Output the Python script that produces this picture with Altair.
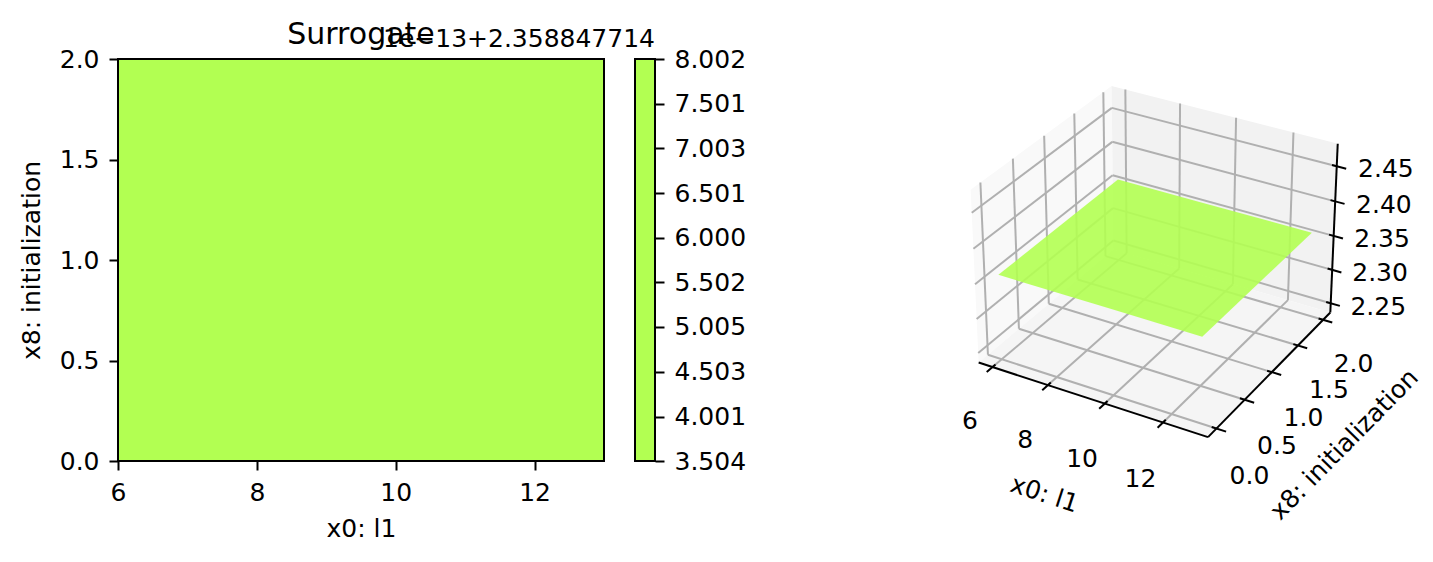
import numpy as np
import pandas as pd
import altair as alt

# ------------------------------------------------------------------ data
x_range = [6.0, 13.0]                      # x0: l1
y_range = [0.0, 2.0]                       # x8: initialization
surrogate_value = [2.3588477145]           # constant surrogate prediction
cbar_levels = [3.504, 4.001, 4.503, 5.005, 5.502, 6.000, 6.501, 7.003, 7.501, 8.002]
cbar_offset_text = "1e\u221213+2.358847714"
title_text = "Surrogate"
x_label = "x0: l1"
y_label = "x8: initialization"
x_ticks = [6, 8, 10, 12]
y_ticks = [0.0, 0.5, 1.0, 1.5, 2.0]
z_ticks = [2.25, 2.30, 2.35, 2.40, 2.45]
# extents of the 3D box (axis limits incl. matplotlib padding)
x_box = [5.49, 13.51]
y_box = [-0.146, 2.146]
z_box = [2.236, 2.4816]

# ------------------------------------------------------------------ style / layout
FONT = "DejaVu Sans"
GREEN = "#b2ff52"
MAIN_W, MAIN_H = 486, 402
CB_W = 20
SP = 31
PANEL_W = 740
PAD_LEFT, PAD_TOP = 18, 19
MAIN_LEFT, MAIN_TOP = 117, 58
PANEL_LEFT = MAIN_LEFT + MAIN_W + SP + CB_W + SP
K, CX, CY = 2300.0, 1156.6, 252.5   # projected-plane -> pixel scale / centre

# ------------------------------------------------------------------ 3D projection (matplotlib style)
elev, azim = np.deg2rad(30.0), np.deg2rad(-60.0)
ASPECT = np.array([4.0, 4.0, 3.0])
ASPECT = ASPECT * 1.8294640721620434 / np.linalg.norm(ASPECT)
W = np.array([np.cos(elev) * np.cos(azim), np.cos(elev) * np.sin(azim), np.sin(elev)])
EYE = ASPECT / 2 + 10.0 * W
U = np.cross([0.0, 0.0, 1.0], W)
U = U / np.linalg.norm(U)
V = np.cross(W, U)


def fx(f):
    return x_box[0] + f * (x_box[1] - x_box[0])


def fy(f):
    return y_box[0] + f * (y_box[1] - y_box[0])


def fz(f):
    return z_box[0] + f * (z_box[1] - z_box[0])


def project(x, y, z):
    X = (np.asarray(x, float) - x_box[0]) / (x_box[1] - x_box[0]) * ASPECT[0]
    Y = (np.asarray(y, float) - y_box[0]) / (y_box[1] - y_box[0]) * ASPECT[1]
    Z = (np.asarray(z, float) - z_box[0]) / (z_box[1] - z_box[0]) * ASPECT[2]
    P = np.stack([X, Y, Z], axis=-1)
    d = P - EYE
    depth = -(d @ W)
    return (d @ U) / depth, (d @ V) / depth


def seg_rows(segs, kind):
    rows = []
    for p, q in segs:
        a = project(*p)
        b = project(*q)
        rows.append(dict(kind=kind, sx=float(a[0]), sy=float(a[1]), sx2=float(b[0]), sy2=float(b[1])))
    return rows


def poly_rows(pts, name):
    pts = np.array(pts, float)
    sx, sy = project(pts[:, 0], pts[:, 1], pts[:, 2])
    n = len(sx)
    rows = []
    for xv in sorted(set(sx.tolist())):
        ys = []
        for i in range(n):
            j = (i + 1) % n
            x1, y1, x2, y2 = sx[i], sy[i], sx[j], sy[j]
            if min(x1, x2) <= xv <= max(x1, x2):
                if x1 == x2:
                    ys += [y1, y2]
                else:
                    ys.append(y1 + (y2 - y1) * (xv - x1) / (x2 - x1))
        rows.append(dict(name=name, sx=float(xv), sy=float(max(ys)), sy2=float(min(ys))))
    return rows


x0, x1 = x_box
y0, y1 = y_box
z0, z1 = z_box

# panes
pane_rows = []
pane_rows += poly_rows([(x0, y0, z0), (x0, y1, z0), (x0, y1, z1), (x0, y0, z1)], "xpane")
pane_rows += poly_rows([(x0, y1, z0), (x1, y1, z0), (x1, y1, z1), (x0, y1, z1)], "ypane")
pane_rows += poly_rows([(x0, y0, z0), (x1, y0, z0), (x1, y1, z0), (x0, y1, z0)], "zpane")
pane_df = pd.DataFrame(pane_rows)

# grid lines
grid_segs = []
for xt in x_ticks:
    grid_segs.append(((xt, y0, z0), (xt, y1, z0)))
    grid_segs.append(((xt, y1, z0), (xt, y1, z1)))
for yt in y_ticks:
    grid_segs.append(((x0, yt, z0), (x1, yt, z0)))
    grid_segs.append(((x0, yt, z0), (x0, yt, z1)))
for zt in z_ticks:
    grid_segs.append(((x0, y0, zt), (x0, y1, zt)))
    grid_segs.append(((x0, y1, zt), (x1, y1, zt)))
grid_df = pd.DataFrame(seg_rows(grid_segs, "grid"))

# surface
zs = surrogate_value[0]
surf_df = pd.DataFrame(poly_rows([(x_range[0], y_range[0], zs), (x_range[1], y_range[0], zs),
                                  (x_range[1], y_range[1], zs), (x_range[0], y_range[1], zs)], "surface"))

# axis lines + ticks
axis_segs = [((x0, y0, z0), (x1, y0, z0)), ((x1, y0, z0), (x1, y1, z0)), ((x1, y1, z0), (x1, y1, z1))]
for xt in x_ticks:
    axis_segs.append(((xt, fy(0.02), z0), (xt, fy(-0.04), z0)))
for yt in y_ticks:
    axis_segs.append(((fx(0.98), yt, z0), (fx(1.04), yt, z0)))
for zt in z_ticks:
    axis_segs.append(((fx(0.98), y1, zt), (fx(1.04), y1, zt)))
axis_df = pd.DataFrame(seg_rows(axis_segs, "axis"))

# tick labels
lab_rows = []
for xt in x_ticks:
    a = project(xt, fy(-0.165), fz(-0.2))
    lab_rows.append(dict(sx=float(a[0]), sy=float(a[1]), label=f"{xt:d}"))
for yt in y_ticks:
    a = project(fx(1.14), yt, fz(-0.215))
    lab_rows.append(dict(sx=float(a[0]), sy=float(a[1]), label=f"{yt:.1f}"))
for zt in z_ticks:
    a = project(fx(1.173), fy(1.071), zt)
    lab_rows.append(dict(sx=float(a[0]), sy=float(a[1]), label=f"{zt:.2f}"))
lab_df = pd.DataFrame(lab_rows)


def screen_angle(p, q):
    a = project(*p)
    b = project(*q)
    ang = np.degrees(np.arctan2(-(b[1] - a[1]), b[0] - a[0]))
    return float(ang % 360)


ax_title_rows = []
a = project(fx(0.52), fy(-0.36), fz(-0.27))
ax_title_rows.append(dict(sx=float(a[0]), sy=float(a[1]), label=x_label,
                          angle=screen_angle((x0, y0, z0), (x1, y0, z0))))
a = project(fx(1.315), fy(0.5), fz(-0.298))
ax_title_rows.append(dict(sx=float(a[0]), sy=float(a[1]), label=y_label,
                          angle=screen_angle((x1, y0, z0), (x1, y1, z0))))
ax_title_df = pd.DataFrame(ax_title_rows)

# ------------------------------------------------------------------ left: filled contour
main_df = pd.DataFrame({"x": [x_range[0]], "x2": [x_range[1]], "y": [y_range[0]], "y2": [y_range[1]],
                        "z": surrogate_value})
main = alt.Chart(main_df).mark_rect(color=GREEN, stroke="black", strokeWidth=2).encode(
    x=alt.X("x:Q", scale=alt.Scale(domain=x_range, nice=False, zero=False),
            axis=alt.Axis(values=x_ticks, format="d", title=x_label, labelFlush=False, titlePadding=11)),
    x2="x2",
    y=alt.Y("y:Q", scale=alt.Scale(domain=y_range, nice=False, zero=False),
            axis=alt.Axis(values=y_ticks, format=".1f", title=y_label, labelFlush=False, titlePadding=15)),
    y2="y2",
).properties(
    width=MAIN_W, height=MAIN_H,
    title=alt.TitleParams(title_text, fontSize=30, anchor="middle", frame="group", offset=-27,
                          baseline="alphabetic"),
)

# ------------------------------------------------------------------ colorbar
cb_df = pd.DataFrame({"lo": [cbar_levels[0]], "hi": [cbar_levels[-1]]})
cbar = alt.Chart(cb_df).mark_rect(color=GREEN, stroke="black", strokeWidth=2).encode(
    y=alt.Y("lo:Q", scale=alt.Scale(domain=[cbar_levels[0], cbar_levels[-1]], nice=False, zero=False),
            axis=alt.Axis(orient="right", values=cbar_levels, format=".3f", title=None,
                          labelFlush=False, labelOverlap=False)),
    y2="hi",
).properties(
    width=CB_W, height=MAIN_H,
    title=alt.TitleParams(cbar_offset_text, fontSize=25, anchor="end", frame="group", offset=-25,
                          baseline="alphabetic"),
)

# ------------------------------------------------------------------ right: 3D surface
xsc = alt.Scale(domain=[float((PANEL_LEFT - CX) / K), float((PANEL_LEFT + PANEL_W - CX) / K)],
                nice=False, zero=False)
ysc = alt.Scale(domain=[float((CY - (MAIN_TOP + MAIN_H)) / K), float((CY - MAIN_TOP) / K)],
                nice=False, zero=False)
XE = alt.X("sx:Q", scale=xsc, axis=None)
YE = alt.Y("sy:Q", scale=ysc, axis=None, stack=None)

panes = alt.Chart(pane_df).mark_area(strokeWidth=0).encode(
    x=XE, y=YE, y2="sy2",
    color=alt.Color("name:N", scale=alt.Scale(domain=["xpane", "ypane", "zpane"],
                                              range=["#f9f9f9", "#f2f2f2", "#f5f5f5"]), legend=None),
    detail="name:N",
)
grid = alt.Chart(grid_df).mark_rule(color="#b0b0b0", strokeWidth=2).encode(x=XE, y=YE, x2="sx2", y2="sy2")
surface = alt.Chart(surf_df).mark_area(color=GREEN, opacity=0.9, strokeWidth=0).encode(x=XE, y=YE, y2="sy2")
axes3d = alt.Chart(axis_df).mark_rule(color="black", strokeWidth=2).encode(x=XE, y=YE, x2="sx2", y2="sy2")
labels3d = alt.Chart(lab_df).mark_text(fontSize=25, color="black", align="center", baseline="middle",
                                       font=FONT).encode(x=XE, y=YE, text="label:N")
titles3d = alt.Chart(ax_title_df).mark_text(fontSize=25, color="black", align="center", baseline="middle",
                                            font=FONT).encode(
    x=XE, y=YE, text="label:N", angle=alt.Angle("angle:Q", scale=None))

panel = alt.layer(panes, grid, surface, axes3d, labels3d, titles3d).properties(
    width=PANEL_W, height=MAIN_H, view=alt.ViewBackground(stroke="transparent", strokeWidth=0))

chart = alt.hconcat(main, cbar, panel, spacing=SP, bounds="flush").properties(
    padding={"left": PAD_LEFT, "top": PAD_TOP, "right": 5, "bottom": 5},
    background="white",
).configure(font=FONT).configure_view(stroke="black", strokeWidth=2).configure_axis(
    labelFont=FONT, titleFont=FONT, labelFontSize=25, titleFontSize=25, labelColor="black",
    titleColor="black", tickColor="black", tickWidth=2, tickSize=9, labelPadding=10,
    domain=False, grid=False, titleFontWeight="normal",
).configure_title(font=FONT, color="black", fontWeight="normal")

chart.save("out.html", embed_options={"renderer": "svg", "actions": False})
